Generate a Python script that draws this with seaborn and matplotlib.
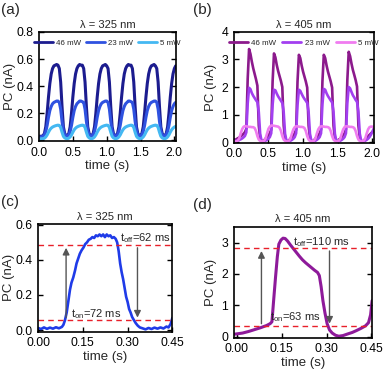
import numpy as np
import pandas as pd
import matplotlib
matplotlib.use("Agg")
import matplotlib.pyplot as plt
import seaborn as sns

# ============================================================================
# DATA
# ============================================================================

# (a) and (b): time grid 0.00 ... 2.02 s, step 0.02 s, one row = one 0.36 s cycle
t_grid = np.round(np.arange(0, 2.03, 0.02), 2)

a_46mw = [
    0.03, 0.03, 0.03, 0.035, 0.05, 0.10, 0.20, 0.32, 0.42, 0.49, 0.53, 0.55, 0.555, 0.56, 0.555, 0.53, 0.43, 0.25,
    0.10, 0.05, 0.035, 0.035, 0.05, 0.10, 0.20, 0.32, 0.42, 0.49, 0.53, 0.55, 0.56, 0.555, 0.555, 0.53, 0.43, 0.25,
    0.10, 0.05, 0.035, 0.035, 0.05, 0.10, 0.20, 0.32, 0.42, 0.49, 0.53, 0.55, 0.555, 0.56, 0.55, 0.53, 0.43, 0.25,
    0.10, 0.05, 0.035, 0.035, 0.05, 0.10, 0.20, 0.32, 0.42, 0.49, 0.53, 0.55, 0.56, 0.555, 0.555, 0.53, 0.43, 0.25,
    0.10, 0.05, 0.035, 0.035, 0.05, 0.10, 0.20, 0.32, 0.42, 0.49, 0.53, 0.55, 0.555, 0.56, 0.55, 0.53, 0.43, 0.25,
    0.10, 0.05, 0.035, 0.035, 0.05, 0.10, 0.20, 0.32, 0.42, 0.49, 0.53, 0.55,
]
a_23mw = [
    0.025, 0.025, 0.025, 0.03, 0.04, 0.065, 0.11, 0.17, 0.22, 0.25, 0.27, 0.28, 0.285, 0.29, 0.29, 0.28, 0.23, 0.14,
    0.07, 0.04, 0.03, 0.03, 0.04, 0.065, 0.11, 0.17, 0.22, 0.25, 0.27, 0.28, 0.29, 0.29, 0.285, 0.28, 0.23, 0.14,
    0.07, 0.04, 0.03, 0.03, 0.04, 0.065, 0.11, 0.17, 0.22, 0.25, 0.27, 0.28, 0.285, 0.29, 0.29, 0.28, 0.23, 0.14,
    0.07, 0.04, 0.03, 0.03, 0.04, 0.065, 0.11, 0.17, 0.22, 0.25, 0.27, 0.28, 0.29, 0.29, 0.285, 0.28, 0.23, 0.14,
    0.07, 0.04, 0.03, 0.03, 0.04, 0.065, 0.11, 0.17, 0.22, 0.25, 0.27, 0.28, 0.285, 0.29, 0.29, 0.28, 0.23, 0.14,
    0.07, 0.04, 0.03, 0.03, 0.04, 0.065, 0.11, 0.17, 0.22, 0.25, 0.27, 0.28,
]
a_5mw = [
    0.01, 0.01, 0.012, 0.012, 0.016, 0.025, 0.04, 0.06, 0.078, 0.09, 0.098, 0.103, 0.107, 0.11, 0.112, 0.11, 0.095, 0.06,
    0.03, 0.018, 0.013, 0.012, 0.016, 0.025, 0.04, 0.06, 0.078, 0.09, 0.098, 0.103, 0.107, 0.11, 0.112, 0.11, 0.095, 0.06,
    0.03, 0.018, 0.013, 0.012, 0.016, 0.025, 0.04, 0.06, 0.078, 0.09, 0.098, 0.103, 0.107, 0.11, 0.112, 0.11, 0.095, 0.06,
    0.03, 0.018, 0.013, 0.012, 0.016, 0.025, 0.04, 0.06, 0.078, 0.09, 0.098, 0.103, 0.107, 0.11, 0.112, 0.11, 0.095, 0.06,
    0.03, 0.018, 0.013, 0.012, 0.016, 0.025, 0.04, 0.06, 0.078, 0.09, 0.098, 0.103, 0.107, 0.11, 0.112, 0.11, 0.095, 0.06,
    0.03, 0.018, 0.013, 0.012, 0.016, 0.025, 0.04, 0.06, 0.078, 0.09, 0.098, 0.103,
]

b_46mw = [
    0.05, 0.08, 0.11, 0.14, 0.17, 0.21, 0.25, 0.30, 0.36, 0.48, 2.30, 3.38, 3.20, 2.92, 2.68, 2.48, 2.28, 2.05,
    0.60, 0.15, 0.03, 0.02, 0.07, 0.13, 0.19, 0.25, 0.32, 0.45, 2.20, 3.22, 3.08, 2.80, 2.58, 2.40, 2.22, 2.00,
    0.60, 0.15, 0.03, 0.02, 0.07, 0.13, 0.19, 0.25, 0.32, 0.45, 2.20, 3.17, 3.05, 2.78, 2.56, 2.38, 2.20, 1.98,
    0.60, 0.15, 0.03, 0.02, 0.07, 0.13, 0.19, 0.25, 0.32, 0.45, 2.20, 3.17, 3.05, 2.78, 2.56, 2.38, 2.20, 1.98,
    0.60, 0.15, 0.03, 0.02, 0.07, 0.13, 0.19, 0.25, 0.32, 0.45, 2.25, 3.28, 3.12, 2.85, 2.62, 2.44, 2.25, 2.02,
    0.60, 0.15, 0.03, 0.02, 0.06, 0.11, 0.16, 0.21, 0.26, 0.31, 0.36, 0.42,
]
b_23mw = [
    0.03, 0.04, 0.05, 0.06, 0.08, 0.10, 0.13, 0.17, 0.22, 0.35, 1.40, 1.97, 1.92, 1.78, 1.68, 1.60, 1.52, 1.45,
    1.10, 0.30, 0.05, 0.02, 0.03, 0.05, 0.08, 0.12, 0.18, 0.32, 1.35, 1.90, 1.88, 1.76, 1.66, 1.58, 1.50, 1.42,
    1.10, 0.30, 0.05, 0.02, 0.03, 0.05, 0.08, 0.12, 0.18, 0.32, 1.35, 1.90, 1.86, 1.75, 1.65, 1.57, 1.50, 1.42,
    1.10, 0.30, 0.05, 0.02, 0.03, 0.05, 0.08, 0.12, 0.18, 0.32, 1.38, 1.93, 1.90, 1.77, 1.67, 1.59, 1.51, 1.44,
    1.10, 0.30, 0.05, 0.02, 0.03, 0.05, 0.08, 0.12, 0.18, 0.32, 1.42, 2.00, 1.95, 1.82, 1.70, 1.62, 1.53, 1.46,
    1.10, 0.30, 0.05, 0.02, 0.03, 0.05, 0.08, 0.12, 0.18, 0.26, 0.36, 0.48,
]
b_5mw = [
    0.02, 0.02, 0.03, 0.06, 0.15, 0.32, 0.47, 0.55, 0.58, 0.57, 0.56, 0.55, 0.55, 0.54, 0.54, 0.51, 0.40, 0.22,
    0.09, 0.04, 0.02, 0.02, 0.05, 0.14, 0.31, 0.48, 0.56, 0.60, 0.60, 0.59, 0.58, 0.57, 0.56, 0.52, 0.41, 0.22,
    0.09, 0.04, 0.02, 0.02, 0.05, 0.14, 0.31, 0.46, 0.54, 0.57, 0.57, 0.56, 0.55, 0.55, 0.54, 0.51, 0.40, 0.22,
    0.09, 0.04, 0.02, 0.02, 0.05, 0.14, 0.31, 0.46, 0.54, 0.57, 0.57, 0.56, 0.55, 0.55, 0.54, 0.51, 0.40, 0.22,
    0.09, 0.04, 0.02, 0.02, 0.05, 0.14, 0.31, 0.46, 0.54, 0.57, 0.57, 0.56, 0.55, 0.55, 0.54, 0.51, 0.40, 0.22,
    0.09, 0.04, 0.02, 0.02, 0.05, 0.14, 0.31, 0.46, 0.54, 0.56, 0.56, 0.55,
]

power_labels = ["46 mW", "23 mW", "5 mW"]

# (c) single pulse, 325 nm
c_time = [0.000, 0.010, 0.020, 0.030, 0.040, 0.050, 0.060, 0.070, 0.080, 0.085, 0.090, 0.096,
          0.102, 0.107, 0.112, 0.118, 0.124, 0.129, 0.135, 0.140, 0.146, 0.152, 0.158, 0.164,
          0.170, 0.176, 0.182, 0.188, 0.194, 0.200, 0.206, 0.212, 0.218, 0.224, 0.230, 0.236,
          0.242, 0.248, 0.254, 0.260, 0.265, 0.270, 0.275, 0.280, 0.285, 0.290, 0.295, 0.300,
          0.305, 0.310, 0.315, 0.320, 0.327, 0.334, 0.341, 0.350, 0.360, 0.370, 0.380, 0.390,
          0.400, 0.410, 0.420, 0.430, 0.437, 0.444, 0.450]
c_pc = [0.012, 0.006, 0.015, 0.007, 0.014, 0.008, 0.016, 0.010, 0.018, 0.030, 0.055, 0.10,
        0.17, 0.23, 0.27, 0.30, 0.34, 0.38, 0.41, 0.435, 0.455, 0.47, 0.49, 0.50,
        0.515, 0.52, 0.53, 0.525, 0.54, 0.535, 0.545, 0.535, 0.545, 0.53, 0.545, 0.535,
        0.54, 0.525, 0.53, 0.52, 0.50, 0.45, 0.38, 0.33, 0.29, 0.24, 0.19, 0.16,
        0.12, 0.10, 0.075, 0.06, 0.04, 0.025, 0.015, 0.01, 0.004, 0.012, 0.006, 0.014,
        0.008, 0.015, 0.009, 0.02, 0.015, 0.035, 0.07]

# (d) single pulse, 405 nm
d_time = [-0.010, 0.020, 0.040, 0.060, 0.080, 0.100, 0.112, 0.118, 0.124, 0.130, 0.136,
          0.141, 0.148, 0.155, 0.162, 0.170, 0.180, 0.190, 0.200, 0.210, 0.220, 0.230,
          0.240, 0.250, 0.260, 0.270, 0.276, 0.282, 0.288, 0.295, 0.302, 0.310, 0.319,
          0.330, 0.341, 0.355, 0.370, 0.386, 0.400, 0.415, 0.430, 0.440, 0.447, 0.452]
d_pc = [0.08, 0.12, 0.17, 0.23, 0.29, 0.36, 0.42, 0.48, 1.20, 1.90, 2.55,
        2.95, 3.08, 3.14, 3.13, 3.05, 2.92, 2.80, 2.68, 2.56, 2.45, 2.36,
        2.28, 2.20, 2.12, 2.05, 1.95, 1.60, 1.15, 0.75, 0.42, 0.22, 0.12,
        0.05, 0.02, 0.04, 0.09, 0.14, 0.20, 0.27, 0.35, 0.45, 0.70, 1.15]

# rise / fall levels (10 % / 90 %) and arrow positions
c_levels = [0.055, 0.485]
c_arrow_x = [0.094, 0.333]
d_levels = [0.33, 2.82]
d_arrow_x = [0.083, 0.310]

# ============================================================================
# STYLE
# ============================================================================

sns.set_theme(style="ticks")
plt.rcParams["font.family"] = ["Liberation Sans", "DejaVu Sans"]
plt.rcParams["mathtext.default"] = "regular"
plt.rcParams.update({
    "axes.linewidth": 1.2,
    "axes.edgecolor": "black",
    "xtick.direction": "in",
    "ytick.direction": "in",
    "xtick.major.size": 3.5,
    "ytick.major.size": 3.5,
    "xtick.major.width": 1.0,
    "ytick.major.width": 1.0,
    "xtick.labelsize": 8.8,
    "ytick.labelsize": 8.8,
    "xtick.color": "black",
    "ytick.color": "black",
    "ytick.right": True,
})

pal_a = ["#1c1c8f", "#2f52e0", "#44b8f2"]
pal_b = ["#8c1a8c", "#a23ff0", "#f07cf0"]
red_dash = "#e8202a"
arrow_gray = "#555555"

fig = plt.figure(figsize=(3.84, 3.72), dpi=100)
ax_a = fig.add_axes([0.1016, 0.621, 0.356, 0.293])
ax_b = fig.add_axes([0.609, 0.616, 0.364, 0.298])
ax_c = fig.add_axes([0.099, 0.108, 0.350, 0.290])
ax_d = fig.add_axes([0.609, 0.092, 0.360, 0.299])


def long_table(series_list):
    frames = []
    for label, vals in zip(power_labels, series_list):
        frames.append(pd.DataFrame({"time": t_grid, "pc": vals, "power": label}))
    return pd.concat(frames, ignore_index=True)


def finish_axes(ax, title, ylab_x):
    ax.set_title(title, fontsize=8, pad=3)
    ax.set_xlabel("time (s)", fontsize=9.5, labelpad=1)
    ax.set_ylabel("PC (nA)", fontsize=9.5)
    ax.yaxis.set_label_coords(ylab_x, 0.5)
    ax.tick_params(axis="both", which="major", pad=4, right=True, labelright=False)


# ============================================================================
# (a) 325 nm, three powers
# ============================================================================
df_a = long_table([a_46mw, a_23mw, a_5mw])
sns.lineplot(data=df_a, x="time", y="pc", hue="power", palette=pal_a,
             linewidth=2.2, ax=ax_a, legend=False)
ax_a.set_xlim(0, 2.02)
ax_a.set_ylim(-0.005, 0.8)
ax_a.set_xticks([0.0, 0.5, 1.0, 1.5, 2.0])
ax_a.set_yticks([0.0, 0.2, 0.4, 0.6, 0.8])
ax_a.set_xticklabels(["0.0", "0.5", "1.0", "1.5", "2.0"])
finish_axes(ax_a, "λ = 325 nm", -0.17)
ax_a.legend([plt.Line2D([], [], color=c, lw=2.0) for c in pal_a], power_labels,
            loc="center", bbox_to_anchor=(0.5, 0.9), ncol=3, frameon=False,
            fontsize=5.7, handlelength=2.4, handletextpad=0.4, columnspacing=0.6,
            borderaxespad=0)

# ============================================================================
# (b) 405 nm, three powers
# ============================================================================
df_b = long_table([b_46mw, b_23mw, b_5mw])
sns.lineplot(data=df_b, x="time", y="pc", hue="power", palette=pal_b,
             linewidth=1.9, ax=ax_b, legend=False)
ax_b.set_xlim(0, 2.02)
ax_b.set_ylim(-0.03, 4.0)
ax_b.set_xticks([0.0, 0.5, 1.0, 1.5, 2.0])
ax_b.set_yticks([0, 1, 2, 3, 4])
ax_b.set_xticklabels(["0.0", "0.5", "1.0", "1.5", "2.0"])
finish_axes(ax_b, "λ = 405 nm", -0.12)
ax_b.legend([plt.Line2D([], [], color=c, lw=2.0) for c in pal_b], power_labels,
            loc="center", bbox_to_anchor=(0.5, 0.9), ncol=3, frameon=False,
            fontsize=5.7, handlelength=2.4, handletextpad=0.4, columnspacing=0.8,
            borderaxespad=0)

# ============================================================================
# (c) single pulse 325 nm with t_on / t_off
# ============================================================================
sns.lineplot(x=c_time, y=c_pc, color="#1f3be8", linewidth=1.9, ax=ax_c)
for lv in c_levels:
    ax_c.axhline(lv, color=red_dash, lw=1.0, ls=(0, (4, 3)))
ax_c.annotate("", xy=(c_arrow_x[0], c_levels[1]), xytext=(c_arrow_x[0], c_levels[0]),
              arrowprops=dict(arrowstyle="-|>", color=arrow_gray, lw=1.0, mutation_scale=10))
ax_c.annotate("", xy=(c_arrow_x[1], c_levels[0]), xytext=(c_arrow_x[1], c_levels[1]),
              arrowprops=dict(arrowstyle="-|>", color=arrow_gray, lw=1.0, mutation_scale=10))
ax_c.text(0.276, 0.524, "$t_{off}$=62 ms", fontsize=8, va="center", ha="left")
ax_c.text(0.109, 0.089, "$t_{on}$=72 ms", fontsize=8, va="center", ha="left")
ax_c.set_xlim(0, 0.45)
ax_c.set_ylim(-0.01, 0.605)
ax_c.set_xticks([0.0, 0.15, 0.30, 0.45])
ax_c.set_xticklabels(["0.00", "0.15", "0.30", "0.45"])
ax_c.set_yticks([0.0, 0.2, 0.4, 0.6])
finish_axes(ax_c, "λ = 325 nm", -0.17)

# ============================================================================
# (d) single pulse 405 nm with t_on / t_off
# ============================================================================
sns.lineplot(x=d_time, y=d_pc, color="#8e1a9a", linewidth=2.2, ax=ax_d)
for lv in d_levels:
    ax_d.axhline(lv, color=red_dash, lw=1.0, ls=(0, (4, 3)))
ax_d.annotate("", xy=(d_arrow_x[0], d_levels[1]), xytext=(d_arrow_x[0], d_levels[0]),
              arrowprops=dict(arrowstyle="-|>", color=arrow_gray, lw=1.0, mutation_scale=10))
ax_d.annotate("", xy=(d_arrow_x[1], d_levels[0]), xytext=(d_arrow_x[1], d_levels[1]),
              arrowprops=dict(arrowstyle="-|>", color=arrow_gray, lw=1.0, mutation_scale=10))
ax_d.text(0.189, 3.0, "$t_{off}$=110 ms", fontsize=8, va="center", ha="left")
ax_d.text(0.113, 0.63, "$t_{on}$=63 ms", fontsize=8, va="center", ha="left")
ax_d.set_xlim(-0.009, 0.452)
ax_d.set_ylim(-0.03, 3.51)
ax_d.set_xticks([0.0, 0.15, 0.30, 0.45])
ax_d.set_xticklabels(["0.00", "0.15", "0.30", "0.45"])
ax_d.set_yticks([0, 1, 2, 3])
finish_axes(ax_d, "λ = 405 nm", -0.12)

# panel letters
for lbl, x, y in [("(a)", 0.003, 0.973), ("(b)", 0.503, 0.973),
                  ("(c)", 0.003, 0.458), ("(d)", 0.503, 0.448)]:
    fig.text(x, y, lbl, fontsize=11, va="center", ha="left")

fig.savefig("out.png", dpi=100)
